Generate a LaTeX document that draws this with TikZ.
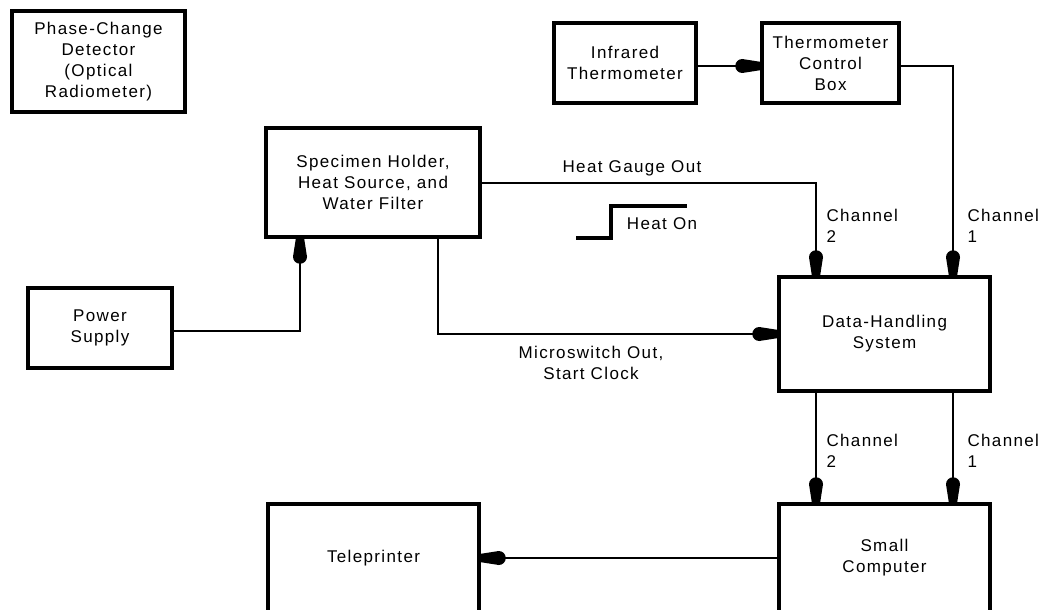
\documentclass[tikz,border=0pt]{standalone}
\usepackage{fontspec}
\setmainfont{Liberation Sans}[LetterSpace=8]
\usepackage{tikz}
\usetikzlibrary{arrows.meta, positioning}

% rounded blob tip, as in the old drawing
\pgfdeclarearrow{
  name = Blob,
  setup code = {
    \pgfarrowssettipend{0pt}
    \pgfarrowssetlineend{-10pt}
    \pgfarrowssetbackend{-25pt}
    \pgfarrowshullpoint{0pt}{4.5pt}
    \pgfarrowshullpoint{0pt}{-4.5pt}
    \pgfarrowshullpoint{-25pt}{0pt}
  },
  drawing code = {
    \pgfpathmoveto{\pgfpoint{0pt}{4.2pt}}
    \pgfpathlineto{\pgfpoint{-18pt}{7pt}}
    \pgfpatharc{90}{270}{7pt}
    \pgfpathlineto{\pgfpoint{0pt}{-4.2pt}}
    \pgfpathclose
    \pgfusepathqfill
  }
}

\begin{document}
\begin{tikzpicture}[
    x=1pt, y=-1pt,
    every node/.style={font=\fontsize{17}{21}\selectfont},
    block/.style={draw, line width=3.5pt, rectangle, align=center,
                  inner sep=0pt},
    signal/.style={line width=2pt, -Blob},
    note/.style={align=left, anchor=west}
]
    \useasboundingbox (0,0) rectangle (1047,610);
    \clip (0,0) rectangle (1047,610);

    % --- Blocks ---
    \node[block, minimum width=173pt, minimum height=101pt] (det)   at (98.5, 61.5)
        {Phase-Change\\Detector\\(Optical\\Radiometer)};
    \node[block, minimum width=142pt, minimum height=80pt]  (irt)   at (625, 63)
        {Infrared\\Thermometer};
    \node[block, minimum width=137pt, minimum height=80pt]  (tcb)   at (830.5, 63)
        {Thermometer\\Control\\Box};
    \node[block, minimum width=214pt, minimum height=109pt] (spec)  at (373, 182.5)
        {Specimen Holder,\\Heat Source, and\\Water Filter};
    \node[block, minimum width=144pt, minimum height=80pt]  (power) at (100, 328)
        {Power\\Supply};
    \node[block, minimum width=211pt, minimum height=114pt] (dhs)   at (884.5, 334)
        {Data-Handling\\System};
    \node[block, minimum width=211pt, minimum height=108pt] (comp)  at (884.5, 558)
        {Small\\Computer};
    \node[block, minimum width=211pt, minimum height=108pt] (tele)  at (373.5, 558)
        {Teleprinter};

    % --- Signals ---
    \draw[signal] ([yshift=-3pt]irt.east) -- ([yshift=-3pt]tcb.west);
    \draw[signal] ([yshift=-3pt]tcb.east) -| ([xshift=68.5pt]dhs.north);
    \draw[signal] (spec.east) -| ([xshift=-68.5pt]dhs.north);
    \draw[signal] ([yshift=-3pt]power.east) -| ([xshift=-73pt]spec.south);
    \draw[signal] ([xshift=65pt]spec.south) |- (dhs.west);
    \draw[signal] ([xshift=-68.5pt]dhs.south) -- ([xshift=-68.5pt]comp.north);
    \draw[signal] ([xshift=68.5pt]dhs.south) -- ([xshift=68.5pt]comp.north);
    \draw[signal] (comp.west) -- (tele.east);

    % --- Labels ---
    \node (gauge) at (632, 168) {Heat Gauge Out};
    \node[align=center] (micro) at (591, 363) {Microswitch Out,\\Start Clock};
    \node[note] (ch2a) at (823, 225.5) {Channel\\2};
    \node[note] (ch1a) at (964, 225.5) {Channel\\1};
    \node[note] (ch2b) at (823, 450.5) {Channel\\2};
    \node[note] (ch1b) at (964, 450.5) {Channel\\1};

    % --- Heat-on step ---
    \draw[line width=3.5pt] (576, 238) -- (611, 238) -- (611, 206) -- (687, 206);
    \node (heaton) at (662, 224) {Heat On};
\end{tikzpicture}
\end{document}
